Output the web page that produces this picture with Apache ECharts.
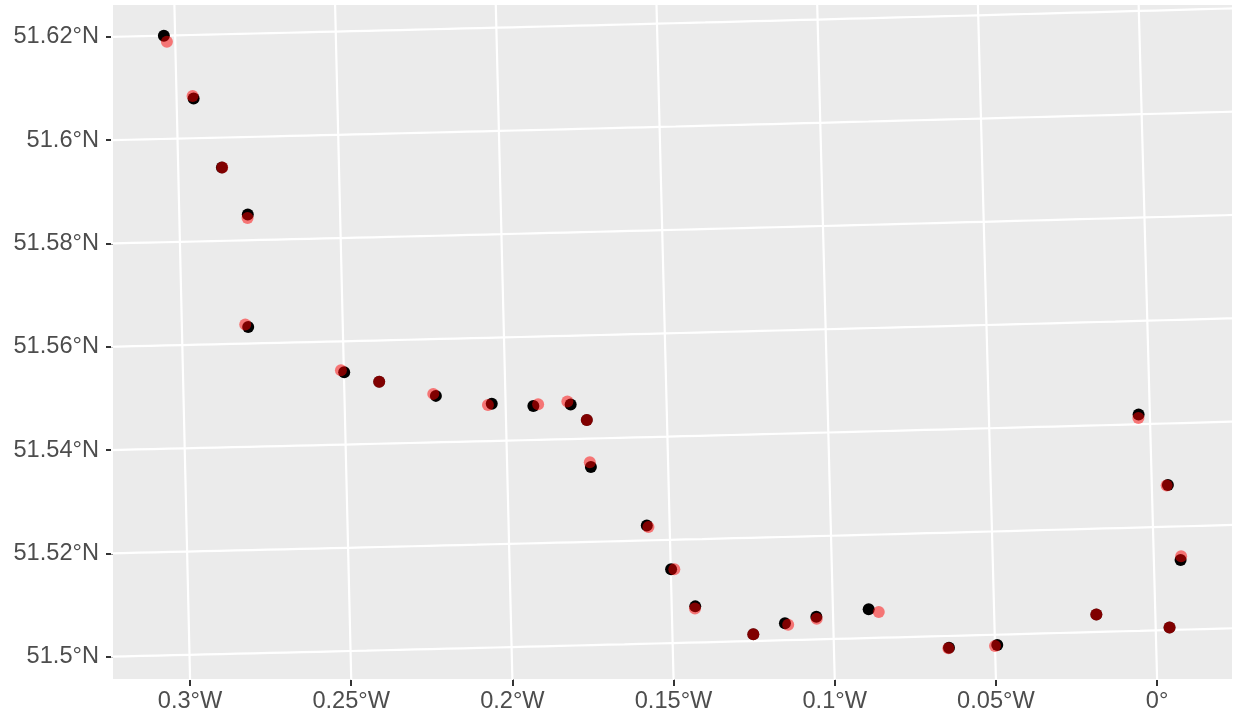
<!DOCTYPE html>
<html>
<head>
<meta charset="utf-8">
<script src="https://cdn.jsdelivr.net/npm/echarts@6/dist/echarts.min.js"></script>
<style>
html,body{margin:0;padding:0;background:#fff;}
#chart{width:1235px;height:713px;}
</style>
</head>
<body>
<div id="chart"></div>
<script>
// ---- data (longitude / latitude, WGS84 degrees) ----
const lonBlack = [-0.3035,-0.2947,-0.2864,-0.2787,-0.2794,-0.2499,-0.2391,-0.2216,-0.2043,-0.1914,-0.1798,-0.1749,-0.1740,-0.1571,-0.1499,-0.1427,-0.1249,-0.1150,-0.1052,-0.0889,-0.0643,-0.0493,-0.0183,-0.0035,0.0050,0.0083,0.0043];
const latBlack = [51.6200,51.6077,51.5942,51.5850,51.5632,51.5540,51.5520,51.5490,51.5472,51.5466,51.5467,51.5436,51.5345,51.5229,51.5143,51.5070,51.5013,51.5033,51.5044,51.5056,51.4977,51.4980,51.5034,51.5419,51.5281,51.5135,51.5005];
const lonRed = [-0.3026,-0.2950,-0.2863,-0.2788,-0.2803,-0.2509,-0.2391,-0.2224,-0.2055,-0.1899,-0.1808,-0.1749,-0.1743,-0.1566,-0.1489,-0.1428,-0.1249,-0.1140,-0.1051,-0.0858,-0.0645,-0.0500,-0.0183,-0.0036,0.0046,0.0085,0.0043];
const latRed = [51.6188,51.6082,51.5942,51.5843,51.5637,51.5544,51.5520,51.5494,51.5470,51.5469,51.5473,51.5436,51.5354,51.5226,51.5143,51.5066,51.5013,51.5030,51.5040,51.5050,51.4976,51.4978,51.5034,51.5412,51.5280,51.5142,51.5005];

const lonBreaks = [-0.3,-0.25,-0.2,-0.15,-0.1,-0.05,0];
const lonLabels = ['0.3°W','0.25°W','0.2°W','0.15°W','0.1°W','0.05°W','0°'];
const latBreaks = [51.5,51.52,51.54,51.56,51.58,51.6,51.62];
const latLabels = ['51.5°N','51.52°N','51.54°N','51.56°N','51.58°N','51.6°N','51.62°N'];

// ---- British National Grid projection (Airy 1830, transverse Mercator) ----
function toEN(lonDeg, latDeg){
  const a=6377563.396,b=6356256.909,F0=0.9996012717;
  const lat0=49*Math.PI/180, lon0=-2*Math.PI/180, N0=-100000, E0=400000;
  const e2=1-(b*b)/(a*a), n=(a-b)/(a+b), n2=n*n, n3=n*n*n;
  const phi=latDeg*Math.PI/180, lam=lonDeg*Math.PI/180;
  const s=Math.sin(phi), c=Math.cos(phi), t=Math.tan(phi);
  const nu=a*F0/Math.sqrt(1-e2*s*s);
  const rho=a*F0*(1-e2)/Math.pow(1-e2*s*s,1.5);
  const eta2=nu/rho-1;
  const Ma=(1+n+1.25*n2+1.25*n3)*(phi-lat0);
  const Mb=(3*n+3*n2+(21/8)*n3)*Math.sin(phi-lat0)*Math.cos(phi+lat0);
  const Mc=((15/8)*n2+(15/8)*n3)*Math.sin(2*(phi-lat0))*Math.cos(2*(phi+lat0));
  const Md=(35/24)*n3*Math.sin(3*(phi-lat0))*Math.cos(3*(phi+lat0));
  const M=b*F0*(Ma-Mb+Mc-Md);
  const c3=c*c*c, c5=c3*c*c, t2=t*t, t4=t2*t2;
  const I=M+N0, II=nu/2*s*c, III=nu/24*s*c3*(5-t2+9*eta2), IIIA=nu/720*s*c5*(61-58*t2+t4);
  const IV=nu*c, V=nu/6*c3*(nu/rho-t2), VI=nu/120*c5*(5-18*t2+t4+14*eta2-58*t2*eta2);
  const dL=lam-lon0;
  const N=I+II*dL*dL+III*Math.pow(dL,4)+IIIA*Math.pow(dL,6);
  const E=E0+IV*dL+V*Math.pow(dL,3)+VI*Math.pow(dL,5);
  return [E,N];
}

const ptsBlack = lonBlack.map((v,i)=>toEN(v,latBlack[i]));
const ptsRed = lonRed.map((v,i)=>toEN(v,latRed[i]));

// bounding box of data with 5% expansion (as ggplot coord_sf)
const all = ptsBlack.concat(ptsRed);
let minE=Infinity,maxE=-Infinity,minN=Infinity,maxN=-Infinity;
all.forEach(p=>{minE=Math.min(minE,p[0]);maxE=Math.max(maxE,p[0]);minN=Math.min(minN,p[1]);maxN=Math.max(maxN,p[1]);});
const dE=maxE-minE, dN=maxN-minN;
const xmin=minE-0.05*dE, xmax=maxE+0.05*dE, ymin=minN-0.05*dN, ymax=maxN+0.05*dN;

// graticule intersections with panel edges (for tick labels)
function bisect(f, lo, hi){ for(let k=0;k<80;k++){const m=(lo+hi)/2; if(f(m)<0) lo=m; else hi=m;} return (lo+hi)/2; }
const xTickVals = lonBreaks.map(lon=>{
  const lat=bisect(la=>toEN(lon,la)[1]-ymin, 50, 53);
  return toEN(lon,lat)[0];
});
const yTickVals = latBreaks.map(lat=>{
  const lon=bisect(lo=>toEN(lo,lat)[0]-xmin, -2, 2);
  return toEN(lon,lat)[1];
});

// graticule lines
const gratSeries = [];
lonBreaks.forEach(lon=>{
  const d=[]; for(let la=51.40; la<=51.72+1e-9; la+=0.005) d.push(toEN(lon,la));
  gratSeries.push(d);
});
latBreaks.forEach(lat=>{
  const d=[]; for(let lo=-0.45; lo<=0.15+1e-9; lo+=0.005) d.push(toEN(lo,lat));
  gratSeries.push(d);
});

function labelFor(vals, labels, v){
  let best=0, bd=Infinity;
  vals.forEach((x,i)=>{const d=Math.abs(x-v); if(d<bd){bd=d;best=i;}});
  return labels[best];
}

const FONT='"Liberation Sans", Arial, sans-serif';
const series = gratSeries.map(d=>({
  type:'line', data:d, showSymbol:false, silent:true, clip:true, smooth:false,
  lineStyle:{color:'#ffffff', width:2.2}, z:1, animation:false
}));
series.push({
  type:'scatter', data:ptsBlack, symbol:'circle', symbolSize:12,
  itemStyle:{color:'#000000', opacity:1}, z:2, silent:true, animation:false
});
series.push({
  type:'scatter', data:ptsRed, symbol:'circle', symbolSize:12,
  itemStyle:{color:'#FF0000', opacity:0.5}, z:3, silent:true, animation:false
});

const chart = echarts.init(document.getElementById('chart'), null, {renderer:'canvas'});
chart.setOption({
  animation:false,
  backgroundColor:'#ffffff',
  grid:{left:113, right:3, top:5, bottom:34, show:true, backgroundColor:'#EBEBEB', borderWidth:0, containLabel:false},
  xAxis:{
    type:'value', min:xmin, max:xmax,
    splitLine:{show:false},
    axisLine:{show:false},
    axisTick:{show:true, customValues:xTickVals, length:7, lineStyle:{color:'#333333', width:2}},
    axisLabel:{show:true, customValues:xTickVals, margin:10, color:'#4D4D4D', fontSize:23.6, fontFamily:FONT,
      formatter:v=>labelFor(xTickVals, lonLabels, v)}
  },
  yAxis:{
    type:'value', min:ymin, max:ymax,
    splitLine:{show:false},
    axisLine:{show:false},
    axisTick:{show:true, customValues:yTickVals, length:7, lineStyle:{color:'#333333', width:2}},
    axisLabel:{show:true, customValues:yTickVals, margin:14, color:'#4D4D4D', fontSize:23.6, fontFamily:FONT,
      formatter:v=>labelFor(yTickVals, latLabels, v)}
  },
  series:series
});
</script>
</body>
</html>
